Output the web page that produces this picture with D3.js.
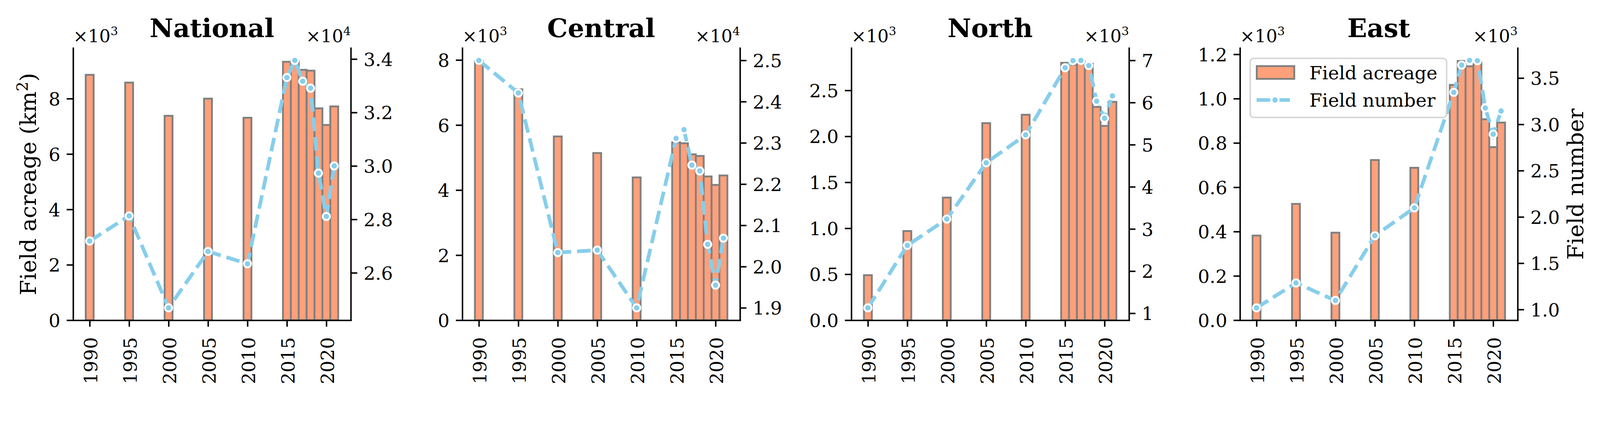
<!DOCTYPE html>
<html lang="en">
<head>
<meta charset="utf-8">
<script src="https://d3js.org/d3.v7.min.js"></script>
<style>
  html, body { margin: 0; padding: 0; background: #fff; overflow: hidden; }
  svg { display: block; width: 100vw; height: auto; }
  text { font-family: "DejaVu Serif", serif; fill: #000; }
</style>
</head>
<body>
<script>
// years shared by every panel
var years = [1990, 1995, 2000, 2005, 2010, 2015, 2016, 2017, 2018, 2019, 2020, 2021];
var xTicks = [1990, 1995, 2000, 2005, 2010, 2015, 2020];
var regions = ['National', 'Central', 'North', 'East'];

// field acreage, km2
var acreageNational = [8860, 8580, 7380, 8000, 7310, 9330, 9360, 9040, 9010, 7650, 7050, 7720];
var acreageCentral  = [7970, 7100, 5650, 5140, 4390, 5470, 5440, 5100, 5050, 4420, 4160, 4450];
var acreageNorth    = [490, 970, 1334, 2144, 2235, 2800, 2780, 2820, 2790, 2320, 2114, 2375];
var acreageEast     = [382, 525, 395, 723, 688, 1062, 1170, 1146, 1165, 907, 781, 892];

// field number
var numberNational = [27190, 28130, 24690, 26800, 26340, 33310, 33950, 33170, 32910, 29730, 28110, 30000];
var numberCentral  = [25000, 24210, 20340, 20400, 19000, 23110, 23320, 22460, 22320, 20540, 19550, 20690];
var numberNorth    = [1129, 2611, 3235, 4571, 5233, 6825, 6994, 7000, 6877, 6032, 5627, 6158];
var numberEast     = [1018, 1287, 1098, 1797, 2098, 3346, 3640, 3691, 3688, 3177, 2894, 3144];

var acreage = [acreageNational, acreageCentral, acreageNorth, acreageEast];
var number = [numberNational, numberCentral, numberNorth, numberEast];

// offset exponents (x10^n) and tick labels
var acreageExp = [3, 3, 3, 3];
var numberExp = [4, 4, 3, 3];
var leftTicks = [[0, 2, 4, 6, 8], [0, 2, 4, 6, 8], [0, 0.5, 1, 1.5, 2, 2.5], [0, 0.2, 0.4, 0.6, 0.8, 1.0, 1.2]];
var leftFmt = ['d', 'd', '.1f', '.1f'];
var rightTicks = [[2.6, 2.8, 3.0, 3.2, 3.4], [1.9, 2.0, 2.1, 2.2, 2.3, 2.4, 2.5], [1, 2, 3, 4, 5, 6, 7], [1.0, 1.5, 2.0, 2.5, 3.0, 3.5]];
var rightFmt = ['.1f', '.1f', 'd', '.1f'];

var width = 4333, height = 1098;
var panelLeft = [198, 1252, 2305.5, 3358];
var panelW = 752, plotTop = 130, plotBottom = 867;
var tickLen = 17.5, tickPad = 17;

var barFill = '#FFA07A', barEdge = '#808080', lineCol = '#87CEEB';

// scale the drawing to the window width
var svg = d3.select('body')
  .append('svg')
  .attr('viewBox', '0 0 ' + width + ' ' + height)
  .attr('preserveAspectRatio', 'xMidYMid meet');

// matplotlib style 5% margins
function padded(lo, hi) {
  var m = (hi - lo) * 0.05;
  return [lo - m, hi + m];
}

function offsetText(g, x, anchor, exp) {
  var t = g.append('text')
    .attr('x', x).attr('y', 114)
    .attr('text-anchor', anchor)
    .style('font-size', '48px');
  t.append('tspan').text('\u00d710');
  t.append('tspan').attr('dy', -19).style('font-size', '32px').text(exp);
}

function styleAxis(a) {
  a.selectAll('path.domain').attr('stroke', '#000').attr('stroke-width', 4).attr('stroke-linecap', 'square');
  a.selectAll('.tick line').attr('stroke', '#000').attr('stroke-width', 4);
  a.selectAll('.tick text').style('font-size', '50px').style('font-family', '"DejaVu Serif", serif').attr('fill', '#000');
}

regions.forEach(function(name, i) {
  var g = svg.append('g').attr('transform', 'translate(' + panelLeft[i] + ',0)');

  var acre = acreage[i].map(function(v) { return v / Math.pow(10, acreageExp[i]); });
  var num = number[i].map(function(v) { return v / Math.pow(10, numberExp[i]); });

  var x = d3.scaleLinear()
    .domain(padded(d3.min(years) - 0.5, d3.max(years) + 0.5))
    .range([0, panelW]);
  var yL = d3.scaleLinear()
    .domain([0, d3.max(acre) * 1.05])
    .range([plotBottom, plotTop]);
  var yR = d3.scaleLinear()
    .domain(padded(d3.min(num), d3.max(num)))
    .range([plotBottom, plotTop]);

  // bars
  g.selectAll('rect.bar')
    .data(years)
    .join('rect')
    .attr('class', 'bar')
    .attr('x', function(d) { return x(d - 0.5); })
    .attr('width', function(d) { return x(d + 0.5) - x(d - 0.5); })
    .attr('y', function(d, j) { return yL(acre[j]); })
    .attr('height', function(d, j) { return yL(0) - yL(acre[j]); })
    .attr('fill', barFill)
    .attr('stroke', barEdge)
    .attr('stroke-width', 5);

  // left axis
  var left = g.append('g')
    .call(d3.axisLeft(yL).tickValues(leftTicks[i]).tickFormat(d3.format(leftFmt[i]))
      .tickSize(tickLen).tickSizeOuter(0).tickPadding(tickPad));
  left.selectAll('.tick text').attr('dy', '0.36em');
  styleAxis(left);

  // bottom axis
  var bot = g.append('g')
    .attr('transform', 'translate(0,' + plotBottom + ')')
    .call(d3.axisBottom(x).tickValues(xTicks).tickFormat(d3.format('d'))
      .tickSize(tickLen).tickSizeOuter(0));
  bot.selectAll('.tick text')
    .attr('transform', 'rotate(-90)')
    .attr('text-anchor', 'end')
    .attr('x', -46)
    .attr('y', 0)
    .attr('dy', '0.4em');
  styleAxis(bot);

  // field number line
  var line = d3.line()
    .x(function(d) { return x(d); })
    .y(function(d, j) { return yR(num[j]); });
  g.append('path')
    .datum(years)
    .attr('d', line)
    .attr('fill', 'none')
    .attr('stroke', lineCol)
    .attr('stroke-width', 10)
    .attr('stroke-dasharray', '37,16');
  g.selectAll('circle.pt')
    .data(years)
    .join('circle')
    .attr('class', 'pt')
    .attr('cx', function(d) { return x(d); })
    .attr('cy', function(d, j) { return yR(num[j]); })
    .attr('r', 9.75)
    .attr('fill', lineCol)
    .attr('stroke', '#fff')
    .attr('stroke-width', 5);

  // right axis
  var right = g.append('g')
    .attr('transform', 'translate(' + panelW + ',0)')
    .call(d3.axisRight(yR).tickValues(rightTicks[i]).tickFormat(d3.format(rightFmt[i]))
      .tickSize(tickLen).tickSizeOuter(0).tickPadding(tickPad));
  right.selectAll('.tick text').attr('dy', '0.36em');
  styleAxis(right);

  // title and offset texts
  g.append('text')
    .attr('x', panelW / 2).attr('y', 100)
    .attr('text-anchor', 'middle')
    .style('font-size', '70px')
    .style('font-weight', 'bold')
    .text(name);
  offsetText(g, 0, 'start', acreageExp[i]);
  offsetText(g, panelW, 'end', numberExp[i]);

  if (i === 0) {
    var yl = g.append('text')
      .attr('transform', 'translate(' + (97 - panelLeft[0]) + ',' + ((plotTop + plotBottom) / 2) + ') rotate(-90)')
      .attr('text-anchor', 'middle')
      .style('font-size', '60px');
    yl.append('tspan').text('Field acreage (km');
    yl.append('tspan').attr('dy', -22).style('font-size', '42px').text('2');
    yl.append('tspan').attr('dy', 22).text(')');
  }

  if (i === 3) {
    g.append('text')
      .attr('transform', 'translate(' + (4287 - panelLeft[3]) + ',' + ((plotTop + plotBottom) / 2) + ') rotate(-90)')
      .attr('text-anchor', 'middle')
      .style('font-size', '60px')
      .text('Field number');

    // legend
    var lg = g.append('g');
    lg.append('rect')
      .attr('x', 27.7).attr('y', 158)
      .attr('width', 532).attr('height', 160)
      .attr('rx', 10)
      .attr('fill', '#fff').attr('fill-opacity', 0.8)
      .attr('stroke', '#ccc').attr('stroke-opacity', 0.8)
      .attr('stroke-width', 4);
    lg.append('rect')
      .attr('x', 45.5).attr('y', 179)
      .attr('width', 101.5).attr('height', 34.5)
      .attr('fill', barFill).attr('stroke', barEdge).attr('stroke-width', 5);
    lg.append('text').attr('x', 188).attr('y', 215).style('font-size', '50px').text('Field acreage');
    lg.append('line')
      .attr('x1', 45).attr('x2', 145).attr('y1', 270.7).attr('y2', 270.7)
      .attr('stroke', lineCol).attr('stroke-width', 10).attr('stroke-dasharray', '37,16');
    lg.append('circle')
      .attr('cx', 95).attr('cy', 270.7).attr('r', 9.75)
      .attr('fill', lineCol).attr('stroke', '#fff').attr('stroke-width', 5);
    lg.append('text').attr('x', 188).attr('y', 289).style('font-size', '50px').text('Field number');
  }
});
</script>
</body>
</html>
